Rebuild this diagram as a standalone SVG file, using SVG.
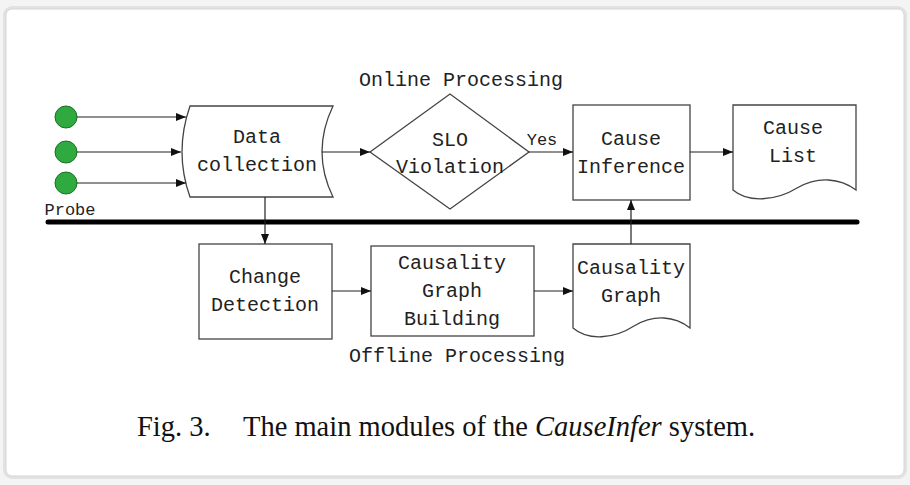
<svg xmlns="http://www.w3.org/2000/svg" width="910" height="485" viewBox="0 0 910 485">
<defs>
<marker id="ah" markerWidth="10" markerHeight="8" refX="10" refY="4" orient="auto" markerUnits="userSpaceOnUse">
<path d="M0,0 L10,4 L0,8 Z" fill="#111"/>
</marker>
</defs>
<style>
.t{font-family:"Liberation Mono","DejaVu Sans Mono",monospace;font-size:20px;fill:#222;text-anchor:middle}
.s{fill:#fff;stroke:#444;stroke-width:1.3}
.c{stroke:#222;stroke-width:1.2;fill:none}
.cap{font-family:"Liberation Serif","Times New Roman",serif;font-size:28.5px;fill:#111}
</style>
<rect x="0" y="0" width="910" height="485" fill="#f4f4f4"/>
<rect x="5" y="8" width="900" height="469" rx="7" fill="none" stroke="#e2e2e2" stroke-width="4"/>
<rect x="6" y="9" width="898" height="467" rx="6" fill="#fff" stroke="#d6d6d6" stroke-width="1"/>

<g id="probes">
<circle cx="66" cy="117" r="11" fill="#2eaa3e" stroke="#1d6e28" stroke-width="1"/>
<circle cx="66" cy="152" r="11" fill="#2eaa3e" stroke="#1d6e28" stroke-width="1"/>
<circle cx="66" cy="183" r="11" fill="#2eaa3e" stroke="#1d6e28" stroke-width="1"/>
<text class="t" x="70" y="215" style="font-size:17px">Probe</text>
</g>

<g id="data-collection">
<path class="s" d="M190,106 L333,106 Q311,152 333,197 L190,197 Q174,152 190,106 Z"/>
<text class="t" x="257" y="143">Data</text>
<text class="t" x="257" y="171">collection</text>
</g>

<g id="slo-violation">
<path class="s" d="M370,152 L450,94 L529,152 L450,209 Z"/>
<text class="t" x="450" y="146">SLO</text>
<text class="t" x="450" y="173">Violation</text>
</g>

<g id="cause-inference">
<rect class="s" x="573" y="105" width="117" height="95"/>
<text class="t" x="631" y="145">Cause</text>
<text class="t" x="631" y="173">Inference</text>
</g>

<g id="cause-list">
<path class="s" d="M733,105 H856 V190 C840,178 818,176 797,188 C776,201 748,203 733,190 Z"/>
<text class="t" x="793" y="134">Cause</text>
<text class="t" x="793" y="162">List</text>
</g>

<g id="change-detection">
<rect class="s" x="199" y="244" width="133" height="95"/>
<text class="t" x="265" y="283">Change</text>
<text class="t" x="265" y="311">Detection</text>
</g>

<g id="causality-graph-building">
<rect class="s" x="371" y="246" width="163" height="90"/>
<text class="t" x="452" y="269">Causality</text>
<text class="t" x="452" y="297">Graph</text>
<text class="t" x="452" y="325">Building</text>
</g>

<g id="causality-graph">
<path class="s" d="M573,244 H690 V328 C675,316 654,314 634,326 C614,339 588,341 573,328 Z"/>
<text class="t" x="631" y="274">Causality</text>
<text class="t" x="631" y="302">Graph</text>
</g>

<g id="labels">
<text class="t" x="461" y="86">Online Processing</text>
<text class="t" x="457" y="362">Offline Processing</text>
<text class="t" x="542" y="145" style="font-size:17px">Yes</text>
</g>

<g id="connectors">
<line x1="48" y1="222" x2="857" y2="222" stroke="#000" stroke-width="5" stroke-linecap="round"/>
<line class="c" x1="77" y1="117" x2="186" y2="117" marker-end="url(#ah)"/>
<line class="c" x1="77" y1="152" x2="181" y2="152" marker-end="url(#ah)"/>
<line class="c" x1="77" y1="183" x2="186" y2="183" marker-end="url(#ah)"/>
<line class="c" x1="322" y1="152" x2="370" y2="152" marker-end="url(#ah)"/>
<line class="c" x1="529" y1="152" x2="573" y2="152" marker-end="url(#ah)"/>
<line class="c" x1="690" y1="152" x2="733" y2="152" marker-end="url(#ah)"/>
<line class="c" x1="265" y1="197" x2="265" y2="244" marker-end="url(#ah)"/>
<line class="c" x1="332" y1="291" x2="371" y2="291" marker-end="url(#ah)"/>
<line class="c" x1="534" y1="291" x2="573" y2="291" marker-end="url(#ah)"/>
<line class="c" x1="631" y1="244" x2="631" y2="200" marker-end="url(#ah)"/>
</g>

<text class="cap" x="137" y="436">Fig. 3.<tspan x="243">The main modules of the </tspan><tspan font-style="italic">CauseInfer</tspan> system.</text>
</svg>
